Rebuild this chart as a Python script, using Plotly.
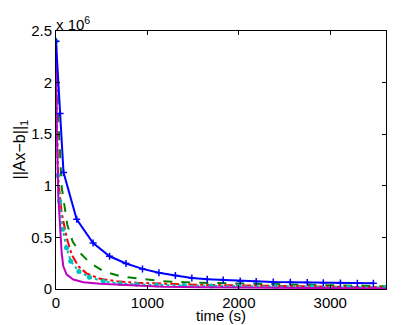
import plotly.graph_objects as go

# values (y in units of 1e6)
t_blue = [0, 45, 82, 226, 406, 586, 766, 946, 1126, 1306, 1486, 1654, 1829, 2015,
          2190, 2377, 2563, 2749, 2924, 3111, 3297, 3472]
v_blue = [2.4, 1.70, 1.13, 0.675, 0.445, 0.317, 0.247, 0.195, 0.157, 0.13, 0.106,
          0.094, 0.087, 0.077, 0.073, 0.068, 0.065, 0.062, 0.06, 0.058, 0.056, 0.055]

t_green = [0, 25, 44, 62, 124, 182, 263, 372, 518, 700, 920, 1172, 1500, 1900,
           2400, 3000, 3610]
v_green = [2.4, 1.64, 1.32, 0.99, 0.62, 0.46, 0.35, 0.253, 0.172, 0.124, 0.099,
           0.075, 0.062, 0.055, 0.045, 0.035, 0.026]

t_red = [0, 10, 25, 62, 117, 172, 244, 336, 482, 665, 884, 1172, 1600, 2000,
         2600, 3200, 3610]
v_red = [2.4, 1.6, 1.06, 0.74, 0.495, 0.334, 0.22, 0.15, 0.099, 0.075, 0.06,
         0.05, 0.04, 0.035, 0.025, 0.018, 0.015]

t_cyan = [0, 20, 40, 73, 115, 161, 250, 365, 518, 700, 884, 1100, 1400, 1700,
          2000, 2400, 2800, 3200, 3610]
v_cyan = [2.4, 1.1, 0.85, 0.58, 0.4, 0.27, 0.17, 0.114, 0.075, 0.053, 0.045,
          0.038, 0.033, 0.03, 0.027, 0.022, 0.019, 0.016, 0.014]

t_mag = [0, 10, 25, 44, 62, 80, 117, 190, 300, 482, 843, 1172, 1600, 2000,
         2600, 3200, 3610]
v_mag = [2.4, 1.5, 0.9, 0.55, 0.35, 0.22, 0.14, 0.092, 0.066, 0.05, 0.034,
         0.022, 0.016, 0.013, 0.009, 0.006, 0.005]

x_ticks = [0, 1000, 2000, 3000]
y_ticks = [0, 0.5, 1, 1.5, 2, 2.5]
y_ticklabels = ["0", "0.5", "1", "1.5", "2", "2.5"]

fig = go.Figure()
fig.add_trace(go.Scatter(x=t_green, y=v_green, mode="lines",
                         line=dict(color="#008000", width=2, dash="dash")))
fig.add_trace(go.Scatter(x=t_red, y=v_red, mode="lines",
                         line=dict(color="#ff0000", width=2, dash="dashdot")))
fig.add_trace(go.Scatter(x=t_cyan, y=v_cyan, mode="lines+markers",
                         line=dict(color="#00bfbf", width=2, dash="dot"),
                         marker=dict(color="#00bfbf", size=5)))
fig.add_trace(go.Scatter(x=t_mag, y=v_mag, mode="lines",
                         line=dict(color="#bf00bf", width=2)))
fig.add_trace(go.Scatter(x=t_blue, y=v_blue, mode="lines+markers",
                         line=dict(color="#0000ff", width=2),
                         marker=dict(symbol="cross-thin", size=5,
                                     line=dict(color="#0000ff", width=1.5))))

axis_common = dict(showgrid=False, zeroline=False, showline=True, mirror="ticks",
                   linecolor="black", linewidth=1, ticks="inside", ticklen=4,
                   tickcolor="black", tickfont=dict(size=15, color="black"),
                   automargin=False)

# page body has an 8px margin, so the figure is 8px smaller than the window
fig.update_layout(
    width=395, height=317,
    margin=dict(l=48, r=17, t=23, b=36),
    plot_bgcolor="white", paper_bgcolor="white",
    showlegend=False,
    font=dict(family="Liberation Sans, Arial, sans-serif", size=15, color="black"),
    xaxis=dict(range=[0, 3610], tickvals=x_ticks, **axis_common),
    yaxis=dict(range=[0, 2.5], tickvals=y_ticks, ticktext=y_ticklabels, **axis_common),
)
fig.add_annotation(x=0, y=1, xref="paper", yref="paper", xanchor="left", yanchor="bottom",
                   text="x 10<sup>6</sup>", showarrow=False, xshift=-2, yshift=-4,
                   font=dict(size=15))
fig.add_annotation(x=0.5, y=0, xref="paper", yref="paper", xanchor="center", yanchor="top",
                   text="time (s)", showarrow=False, yshift=-16, font=dict(size=15))
fig.add_annotation(x=0, y=0.5, xref="paper", yref="paper", xanchor="right", yanchor="middle",
                   text="||Ax\u2212b||<sub>1</sub>", showarrow=False, textangle=-90,
                   xshift=-25, yshift=10, font=dict(size=16))

fig.write_html("out.html")
